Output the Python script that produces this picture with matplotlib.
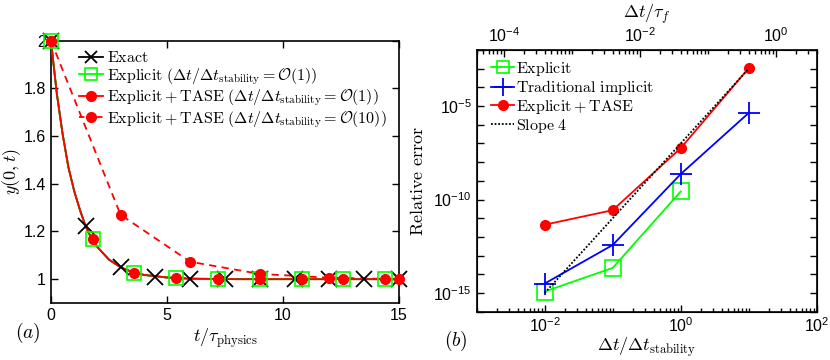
import numpy as np
import matplotlib
matplotlib.use("Agg")
import matplotlib.pyplot as plt
from matplotlib.lines import Line2D
from matplotlib.ticker import LogLocator, FixedLocator, NullFormatter

plt.rcParams['font.family'] = ['Liberation Sans', 'DejaVu Sans']
plt.rcParams['mathtext.fontset'] = 'cm'
plt.rcParams['xtick.direction'] = 'in'
plt.rcParams['ytick.direction'] = 'in'

# ---- panel (a) data ----
t_curve = [0, 0.25, 0.5, 0.75, 1.0, 1.25, 1.5, 1.75, 2.0, 2.5, 3.0, 3.5, 4.0, 5.0, 6.0, 8.0, 10.0, 15.0]
y_curve = [2.0, 1.78, 1.61, 1.47, 1.37, 1.29, 1.22, 1.17, 1.135, 1.082, 1.05, 1.03, 1.018, 1.007, 1.002, 1.0, 1.0, 1.0]

t_exact = [0, 1.5, 3, 4.5, 6, 7.5, 9, 10.5, 12, 13.5, 15]
y_exact = [2.0, 1.223, 1.05, 1.011, 1.002, 1.0, 1.0, 1.0, 1.0, 1.0, 1.0]

t_expl = [0, 1.8, 3.6, 5.4, 7.2, 9.0, 10.8, 12.6, 14.4]
y_expl = [2.0, 1.168, 1.026, 1.004, 1.001, 1.0, 1.0, 1.0, 1.0]
y_tase1 = [2.0, 1.17, 1.027, 1.004, 1.0, 1.0, 1.0, 1.0, 1.0]

t_tase10 = [0, 3, 6, 9, 12, 15]
y_tase10 = [2.0, 1.27, 1.073, 1.022, 1.006, 1.0]

# ---- panel (b) data ----
dt_ratio = [0.01, 0.1, 1, 10]
err_explicit = [1.2e-15, 2.2e-14, 2.7e-10]
err_implicit = [3.2e-15, 3.7e-13, 2.3e-9, 4.3e-6]
err_tase = [4.5e-12, 2.7e-11, 5.6e-8, 1.07e-3]
slope_x = [0.01, 10]
slope_y = [1e-15, 1e-3]
tau_factor = 0.04  # dt/tau_f = tau_factor * dt/dt_stability

green = '#00ff00'
red = '#ff0000'
blue = '#0000ff'

fig = plt.figure(figsize=(8.3, 3.6), dpi=100)

# ================= (a) =================
ax = fig.add_axes([0.0614, 0.1583, 0.4193, 0.7286])
ax.plot(t_curve, y_curve, color='k', lw=1.3, zorder=2)
ax.plot(t_curve, y_curve, color=green, lw=1.3, zorder=3)
ax.plot(t_curve, y_curve, color=red, lw=1.3, zorder=4)
ax.plot(t_tase10, y_tase10, color=red, lw=1.3, ls=(0, (4, 3)), zorder=4)

ax.plot(t_exact, y_exact, 'x', color='k', ms=11, mew=1.3, zorder=5, clip_on=False)
ax.plot(t_expl, y_expl, 's', color=green, mfc='none', ms=10, mew=1.2, zorder=6, clip_on=False)
ax.plot(t_expl, y_tase1, 'o', color=red, ms=7, zorder=7, clip_on=False)
ax.plot(t_tase10, y_tase10, 'o', color=red, ms=7, zorder=7, clip_on=False)

ax.set_xlim(0, 15)
ax.set_ylim(0.9, 2.0)
ax.set_xticks([0, 5, 10, 15])
ax.set_yticks([1, 1.2, 1.4, 1.6, 1.8, 2])
ax.set_yticklabels(['1', '1.2', '1.4', '1.6', '1.8', '2'])
ax.tick_params(top=True, right=True, labelsize=11.5, length=5, width=1)
for s in ax.spines.values():
    s.set_linewidth(1.2)
ax.set_xlabel(r'$t/\tau_{\mathrm{physics}}$', fontsize=13, labelpad=2)
ax.set_ylabel(r'$y(0,t)$', fontsize=13)
ax.yaxis.set_label_coords(-0.08, 0.5)

handles_a = [
    Line2D([0], [0], color='k', marker='x', ms=9, mew=1.3, lw=1.3),
    Line2D([0], [0], color=green, marker='s', mfc='none', ms=9, mew=1.2, lw=1.3),
    Line2D([0], [0], color=red, marker='o', ms=7, lw=1.3),
    Line2D([0], [0], color=red, marker='o', ms=7, lw=1.3, ls=(0, (3, 2))),
]
labels_a = [
    r'$\mathrm{Exact}$',
    r'$\mathrm{Explicit}\ (\Delta t/\Delta t_{\mathrm{stability}}=\mathcal{O}(1))$',
    r'$\mathrm{Explicit}+\mathrm{TASE}\ (\Delta t/\Delta t_{\mathrm{stability}}=\mathcal{O}(1))$',
    r'$\mathrm{Explicit}+\mathrm{TASE}\ (\Delta t/\Delta t_{\mathrm{stability}}=\mathcal{O}(10))$',
]
ax.legend(handles_a, labels_a, loc='upper left', bbox_to_anchor=(0.045, 1.012), frameon=False,
          fontsize=11.5, handlelength=1.5, handletextpad=0.2, labelspacing=0.05, borderpad=0.3)
fig.text(0.018, 0.06, r'$(a)$', fontsize=14)

# ================= (b) =================
bx = fig.add_axes([0.5743, 0.1342, 0.4097, 0.7269])
bx.set_xscale('log')
bx.set_yscale('log')
bx.plot(dt_ratio[:3], err_explicit, color=green, lw=1.3, marker='s', mfc='none', ms=11, mew=1.2, zorder=3)
bx.plot(dt_ratio, err_implicit, color=blue, lw=1.3, marker='+', ms=16, mew=1.3, zorder=4)
bx.plot(dt_ratio, err_tase, color=red, lw=1.3, marker='o', ms=7, zorder=5)
bx.plot(slope_x, slope_y, color='k', lw=1.3, ls=(0, (1, 1)), zorder=6)

bx.set_xlim(1e-3, 1e2)
bx.set_ylim(1e-16, 1e-2)
bx.xaxis.set_major_locator(FixedLocator([1e-2, 1, 1e2]))
bx.xaxis.set_minor_locator(LogLocator(base=10, subs=np.arange(1, 10), numticks=30))
bx.xaxis.set_minor_formatter(NullFormatter())
bx.yaxis.set_major_locator(FixedLocator([1e-15, 1e-10, 1e-5]))
bx.yaxis.set_minor_locator(FixedLocator([10.0 ** e for e in range(-16, -1)]))
bx.yaxis.set_minor_formatter(NullFormatter())
bx.tick_params(which='both', right=True, labelsize=11.5, width=1)
bx.tick_params(which='major', length=5)
bx.tick_params(which='minor', length=3)
bx.tick_params(axis='y', which='minor', length=5)
for s in bx.spines.values():
    s.set_linewidth(1.2)
bx.set_xlabel(r'$\Delta t/\Delta t_{\mathrm{stability}}$', fontsize=13, labelpad=0)
bx.set_ylabel(r'$\mathrm{Relative\ error}$', fontsize=13)
bx.yaxis.set_label_coords(-0.146, 0.5)

top = bx.twiny()
top.set_xscale('log')
top.set_xlim(1e-3 * tau_factor, 1e2 * tau_factor)
top.xaxis.set_major_locator(FixedLocator([1e-4, 1e-2, 1]))
top.xaxis.set_minor_locator(LogLocator(base=10, subs=np.arange(1, 10), numticks=30))
top.xaxis.set_minor_formatter(NullFormatter())
top.tick_params(which='both', labelsize=11.5, width=1)
top.tick_params(which='major', length=5)
top.tick_params(which='minor', length=3)
top.set_xlabel(r'$\Delta t/\tau_f$', fontsize=13, labelpad=6)

handles_b = [
    Line2D([0], [0], color=green, marker='s', mfc='none', ms=9, mew=1.2, lw=1.3),
    Line2D([0], [0], color=blue, marker='+', ms=13, mew=1.3, lw=1.3),
    Line2D([0], [0], color=red, marker='o', ms=7, lw=1.3),
    Line2D([0], [0], color='k', lw=1.3, ls=(0, (1, 1))),
]
labels_b = [
    r'$\mathrm{Explicit}$',
    r'$\mathrm{Traditional\ implicit}$',
    r'$\mathrm{Explicit}+\mathrm{TASE}$',
    r'$\mathrm{Slope\ 4}$',
]
bx.legend(handles_b, labels_b, loc='upper left', bbox_to_anchor=(0.015, 1.0), frameon=False,
          fontsize=11.5, handlelength=1.4, handletextpad=0.15, labelspacing=0.04, borderpad=0.1)
fig.text(0.535, 0.04, r'$(b)$', fontsize=14)

fig.savefig('out.png', dpi=100)
